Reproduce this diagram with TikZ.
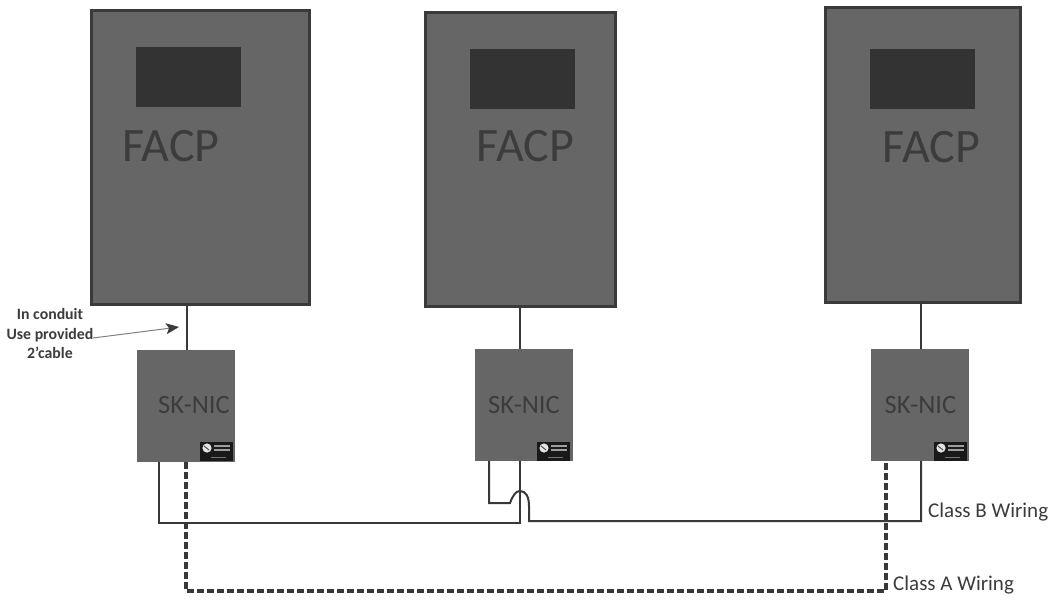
\documentclass[tikz,border=0pt]{standalone}
\usepackage{fontspec}
\setmainfont{Carlito}
\usetikzlibrary{arrows.meta}
\definecolor{boxfill}{HTML}{666666}
\definecolor{boxedge}{HTML}{3A3A3A}
\definecolor{screenfill}{HTML}{333333}
\definecolor{labeltext}{HTML}{3C3C3C}
\definecolor{wirecol}{HTML}{383838}
\tikzset{
 x=1pt,y=-1pt,
 facpbox/.style={draw=boxedge,line width=3pt,fill=boxfill,inner sep=0pt,outer sep=0pt,anchor=north west},
 screenbox/.style={fill=screenfill,inner sep=0pt,outer sep=0pt,anchor=north west,minimum width=105pt,minimum height=60pt},
 nicbox/.style={fill=boxfill,inner sep=0pt,outer sep=0pt,anchor=north west,minimum width=98pt,minimum height=112pt},
 logobox/.style={fill=black!90,inner sep=0pt,outer sep=0pt,anchor=south east,minimum width=33pt,minimum height=19pt},
 facplabel/.style={text=labeltext,font=\fontsize{48}{48}\selectfont,inner sep=0pt},
 niclabel/.style={text=labeltext,font=\fontsize{26.5}{26.5}\selectfont,inner sep=0pt},
 wirelabel/.style={text=labeltext,font=\fontsize{21}{21}\selectfont,inner sep=0pt,anchor=west},
 notelabel/.style={text=labeltext,font=\bfseries\fontsize{15.8}{19.5}\selectfont,inner sep=0pt,align=center},
 wire/.style={draw=wirecol,line width=2pt},
 dashwire/.style={draw=wirecol,line width=3.5pt,dash pattern=on 7pt off 3pt},
}
\newcommand{\drawlogo}[1]{%
 \fill[white!90!black] (#1)+(-26,-13) circle (4.6pt);
 \draw[black!70,line width=1pt] (#1)+(-29,-15) -- +(-24,-11);
 \fill[white!62!black] (#1)+(-19,-16) rectangle +(-3,-14.5);
 \fill[white!62!black] (#1)+(-19,-12) rectangle +(-3,-10.5);
 \fill[white!45!black] (#1)+(-22,-4) rectangle +(-7,-3);
}
\begin{document}
\begin{tikzpicture}
\useasboundingbox (0,0) rectangle (1055,600);
\fill[white] (0,0) rectangle (1055,600);
% FACP cabinets
\node[facpbox,minimum width=218pt,minimum height=294pt] (f1) at (91.5,10.5) {};
\node[facpbox,minimum width=190pt,minimum height=294pt] (f2) at (425.5,12.5) {};
\node[facpbox,minimum width=195pt,minimum height=295pt] (f3) at (825.5,7.5) {};
\node[screenbox] (s1) at (136,47) {};
\node[screenbox] (s2) at (470,49) {};
\node[screenbox] (s3) at (870,49) {};
\node[facplabel] (l1) at (171,146) {FACP};
\node[facplabel] (l2) at (525.5,146) {FACP};
\node[facplabel] (l3) at (931.5,147) {FACP};
% SK-NIC
\node[nicbox] (n1) at (137,350) {};
\node[nicbox] (n2) at (475,349) {};
\node[nicbox] (n3) at (871,349) {};
\node[niclabel] (t1) at (194,405) {SK-NIC};
\node[niclabel] (t2) at (524,405) {SK-NIC};
\node[niclabel] (t3) at (920.5,405) {SK-NIC};
\node[logobox] (b1) at (233,461) {};
\node[logobox] (b2) at (570,461) {};
\node[logobox] (b3) at (967,461) {};
\drawlogo{b1.south east}
\drawlogo{b2.south east}
\drawlogo{b3.south east}
% x positions of the terminals
\coordinate (x1) at (187,0);
\coordinate (x2) at (520,0);
\coordinate (x3) at (921,0);
\coordinate (b1x) at (159,0);
\coordinate (a1x) at (186,0);
\coordinate (b2x) at (489,0);
\coordinate (a3x) at (886,0);
% risers
\draw[wire] (f1.south -| x1) -- (n1.north -| x1);
\draw[wire] (f2.south -| x2) -- (n2.north -| x2);
\draw[wire] (f3.south -| x3) -- (n3.north -| x3);
% class B
\draw[wire] (n1.south -| b1x) -- (b1x |- 0,523) -- (x2 |- 0,523) -- (n2.south -| x2);
\draw[wire] (n2.south -| b2x) -- (b2x |- 0,503) -- (510,503) .. controls (513,495) and (516,491) .. (520,491) .. controls (526,491) and (529,497) .. (529,506) -- (529,521) -- (x3 |- 0,521) -- (n3.south -| x3);
% class A
\draw[dashwire] (n1.south -| a1x) -- (a1x |- 0,591) -- (a3x |- 0,591) -- (n3.south -| a3x);
% labels
\node[wirelabel] (cb) at (928,512) {Class B Wiring};
\node[wirelabel] (ca) at (893,585) {Class A Wiring};
\node[notelabel] (note) at (50,334) {In conduit\\Use provided\\2’cable};
\coordinate (tip) at (179,327);
\coordinate (tail) at (93,338);
\draw[draw=gray,line width=1pt,-{Stealth[length=13pt,width=11pt,inset=3pt,color=boxedge]}] (tail) -- (tip);
\end{tikzpicture}
\end{document}
